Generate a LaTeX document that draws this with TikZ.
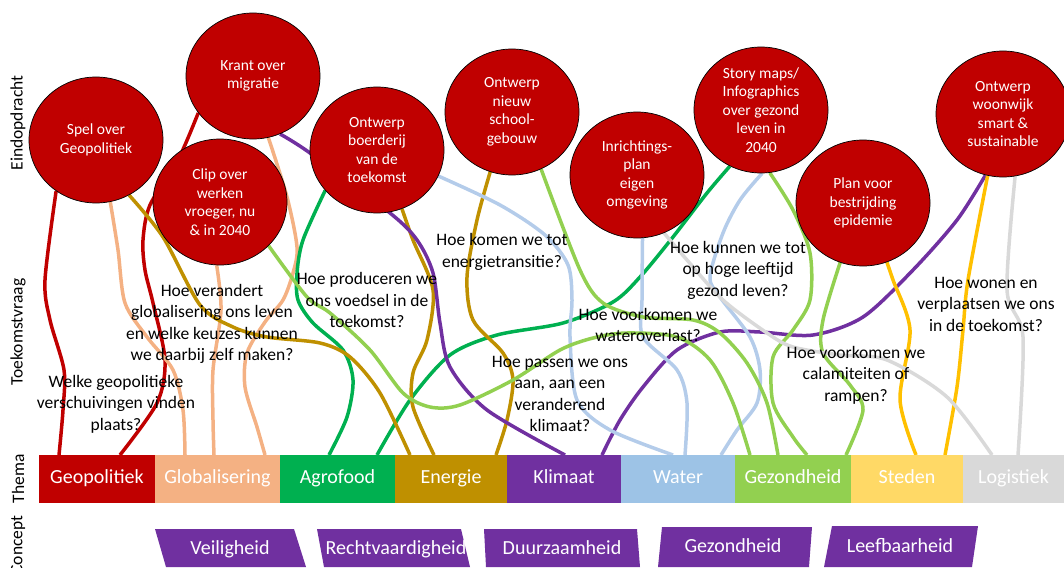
\documentclass[tikz,border=0pt]{standalone}
\usepackage{fontspec}
\setmainfont{Carlito}
\usetikzlibrary{positioning,shapes.geometric,backgrounds}

\definecolor{donkerrood}{HTML}{C00000}
\definecolor{zalm}{HTML}{F4B183}
\definecolor{groen}{HTML}{00B050}
\definecolor{goud}{HTML}{BF9000}
\definecolor{paars}{HTML}{7030A0}
\definecolor{lichtblauw}{HTML}{9DC3E6}
\definecolor{lijnblauw}{HTML}{B4CCEA}
\definecolor{lichtgroen}{HTML}{92D050}
\definecolor{geel}{HTML}{FFD966}
\definecolor{geellijn}{HTML}{FFC000}
\definecolor{grijs}{HTML}{D9D9D9}

\begin{document}
\begin{tikzpicture}[x=1pt, y=-1pt, thick]
        \tikzstyle{opdracht} = [ellipse, draw=black, line width=0.7pt, fill=donkerrood, text=white,
                            align=center, inner sep=0pt, minimum width=134pt, minimum height=126pt,
                            font=\fontsize{15.5}{18.5}\selectfont]
        \tikzstyle{vraag} = [align=center, inner sep=0pt, font=\fontsize{17.5}{21.5}\selectfont]
        \tikzstyle{thema} = [rectangle, inner sep=0pt, outer sep=0pt, minimum height=48pt,
                            text height=13pt, text depth=4pt,
                            text=white, font=\fontsize{20}{24}\selectfont]
        \tikzstyle{concept} = [inner sep=0pt, text height=13pt, text depth=4pt,
                            text=white, font=\fontsize{20}{24}\selectfont]
        \tikzstyle{as} = [rotate=90, inner sep=0pt, font=\fontsize{17.5}{21}\selectfont]
        \tikzstyle{lijn} = [line width=3.5pt]

        \useasboundingbox (0,0) rectangle (1064,567);

        % Labels links
        \node[as] (eind) at (18,123) {Eindopdracht};
        \node[as] (toek) at (18,332) {Toekomstvraag};
        \node[as] (them) at (18,479) {Thema};
        \node[as] (conc) at (18,545) {Concept};

        % Eindopdrachten
        \node[opdracht] (spel) at (96,140) {Spel over\\Geopolitiek};
        \node[opdracht] (krant) at (253,76) {Krant over\\migratie};
        \node[opdracht] (clip) at (220,202) {Clip over\\werken\\vroeger, nu\\\& in 2040};
        \node[opdracht] (boer) at (377,150) {Ontwerp\\boerderij\\van de\\toekomst};
        \node[opdracht] (school) at (512,112) {Ontwerp\\nieuw\\school-\\gebouw};
        \node[opdracht] (inricht) at (637,175) {Inrichtings-\\plan\\eigen\\omgeving};
        \node[opdracht] (story) at (761,110) {Story maps/\\Infographics\\over gezond\\leven in\\2040};
        \node[opdracht] (epid) at (863,203) {Plan voor\\bestrijding\\epidemie};
        \node[opdracht] (woon) at (1003,114) {Ontwerp\\woonwijk\\smart \&\\sustainable};

        % Thema's
        \node[thema, fill=donkerrood, minimum width=116pt] (geo) at (97,479) {Geopolitiek};
        \node[thema, fill=zalm, minimum width=125pt, right=0pt of geo] (glob) {Globalisering};
        \node[thema, fill=groen, minimum width=115pt, right=0pt of glob] (agro) {Agrofood};
        \node[thema, fill=goud, minimum width=112pt, right=0pt of agro] (ener) {Energie};
        \node[thema, fill=paars, minimum width=114pt, right=0pt of ener] (klim) {Klimaat};
        \node[thema, fill=lichtblauw, minimum width=114pt, right=0pt of klim] (water) {Water};
        \node[thema, fill=lichtgroen, minimum width=116pt, right=0pt of water] (gez) {Gezondheid};
        \node[thema, fill=geel, minimum width=112pt, right=0pt of gez] (sted) {Steden};
        \node[thema, fill=grijs, minimum width=101pt, right=0pt of sted] (logi) {Logistiek};

        % Concepten
        \fill[paars] (155,529) -- (294,529) -- (306,567) -- (166,567) -- cycle;
        \fill[paars] (317,529) -- (461,529) -- (470,567) -- (324,567) -- cycle;
        \fill[paars] (484,529) -- (637,529) -- (640,567) -- (486,567) -- cycle;
        \fill[paars] (662,527) -- (812,527) -- (809,567) -- (658,567) -- cycle;
        \fill[paars] (832,526) -- (978,526) -- (972,567) -- (824,567) -- cycle;
        \node[concept] (veil) at (230,550) {Veiligheid};
        \node[concept] (recht) at (396,550) {Rechtvaardigheid};
        \node[concept] (duur) at (562,550) {Duurzaamheid};
        \node[concept] (gezc) at (733,548) {Gezondheid};
        \node[concept] (leef) at (900,548) {Leefbaarheid};

        % Toekomstvragen
        \node[vraag] (vgeo) at (116,404) {Welke geopolitieke\\verschuivingen vinden\\plaats?};
        \node[vraag] (vglob) at (212,324) {Hoe verandert\\globalisering ons leven\\en welke keuzes kunnen\\we daarbij zelf maken?};
        \node[vraag] (vagro) at (367,300) {Hoe produceren we\\ons voedsel in de\\toekomst?};
        \node[vraag] (vener) at (502,252) {Hoe komen we tot\\energietransitie?};
        \node[vraag] (vklim) at (560,394) {Hoe passen we ons\\aan, aan een\\veranderend\\klimaat?};
        \node[vraag] (vwater) at (648,325) {Hoe voorkomen we\\wateroverlast?};
        \node[vraag] (vgez) at (738,270) {Hoe kunnen we tot\\op hoge leeftijd\\gezond leven?};
        \node[vraag] (vcal) at (856,375) {Hoe voorkomen we\\calamiteiten of\\rampen?};
        \node[vraag] (vsted) at (986,304) {Hoe wonen en\\verplaatsen we ons\\in de toekomst?};

        % Lijnen
        \begin{scope}[on background layer]
        \draw[lijn, donkerrood] plot[smooth] coordinates {(spel.232) (45,280) (50,320) (64,370) (63,410) ([xshift=20]geo.north west)};
        \draw[lijn, donkerrood] plot[smooth] coordinates {(krant.214) (178,160) (150,205) (143,240) (145,270) (153,303) (165,360) (157,403) ([xshift=81]geo.north west)};
        \draw[lijn, zalm] plot[smooth] coordinates {(spel.283) (118,250) (125,303) (147,337) (173,370) (183,410) ([xshift=30]glob.north west)};
        \draw[lijn, zalm] plot[smooth] coordinates {(clip.267) (221,310) (213,370) (213,420) ([xshift=59]glob.north west)};
        \draw[lijn, zalm] plot[smooth] coordinates {(krant.284) (287,197) (297,247) (293,273) (283,300) (265,322) (247,353) (245,387) (257,427) ([xshift=110]glob.north west)};
        \draw[lijn, groen] plot[smooth] coordinates {(boer.218) (303,240) (297,273) (298,300) (313,323) (343,350) (353,380) (347,417) ([xshift=49]agro.north west)};
        \draw[lijn, groen] plot[smooth] coordinates {(story.241) (707,193) (673,237) (640,277) (613,302) (563,323) (497,335) (450,355) (410,400) ([xshift=97]agro.north west)};
        \draw[lijn, goud] plot[smooth] coordinates {(spel.301) (163,237) (200,305) (233,327) (267,337) (320,343) (350,357) (380,393) ([xshift=15]ener.north west)};
        \draw[lijn, goud] plot[smooth] coordinates {(boer.293) (413,240) (433,290) (427,340) (413,373) (413,407) ([xshift=39]ener.north west)};
        \draw[lijn, goud] plot[smooth] coordinates {(school.250) (477,220) (467,277) (473,320) (503,353) (513,380) (507,420) ([xshift=101]ener.north west)};
        \draw[lijn, paars] plot[smooth] coordinates {(krant.295) (310,153) (390,213) (417,240) (433,273) (440,323) (450,367) (487,410) ([xshift=58]klim.north west)};
        \draw[lijn, paars] plot[smooth] coordinates {(woon.254) (957,220) (913,270) (863,317) (813,335) (760,332) (720,332) (677,350) (643,387) (620,420) ([xshift=95]klim.north west)};
        \draw[lijn, lijnblauw] plot[smooth] coordinates {(boer.337) (500,205) (545,235) (568,265) (572,300) (570,337) (577,400) (610,430) ([xshift=52]water.north west)};
        \draw[lijn, lijnblauw] plot[smooth] coordinates {(inricht.275) (642,300) (643,337) (677,370) (687,403) ([xshift=64]water.north west)};
        \draw[lijn, lijnblauw] plot[smooth] coordinates {(story.271) (740,200) (723,233) (710,277) (720,297) (750,337) (760,370) (757,403) (737,430) ([xshift=100]water.north west)};
        \draw[lijn, lichtgroen] plot[smooth] coordinates {(clip.318) (307,297) (330,313) (370,350) (403,393) (430,407) (460,405) (513,380) (560,350) (593,338) (627,333) (677,337) (710,360) (733,403) ([xshift=15]gez.north west)};
        \draw[lijn, lichtgroen] plot[smooth] coordinates {(school.297) (580,270) (603,303) (643,317) (693,320) (720,333) (747,363) (767,403) ([xshift=43]gez.north west)};
        \draw[lijn, lichtgroen] plot[smooth] coordinates {(story.278) (793,210) (810,253) (810,300) (793,330) (773,357) (773,403) (793,437) ([xshift=72]gez.north west)};
        \draw[lijn, lichtgroen] plot[smooth] coordinates {(epid.249) (823,320) (823,353) (850,385) (863,410) ([xshift=111]gez.north west)};
        \draw[lijn, geellijn] plot[smooth] coordinates {(epid.292) (893,280) (910,330) (900,400) ([xshift=65]sted.north west)};
        \draw[lijn, geellijn] plot[smooth] coordinates {(woon.256) (968,280) (963,330) (957,387) ([xshift=94]sted.north west)};
        \draw[lijn, grijs] plot[smooth] coordinates {(inricht.295) (687,260) (723,300) (767,333) (793,347) (840,355) (887,360) (947,397) ([xshift=29]logi.north west)};
        \draw[lijn, grijs] plot[smooth] coordinates {(woon.281) (1007,290) (1023,337) ([xshift=55]logi.north west)};
        \end{scope}
    \end{tikzpicture}
\end{document}
